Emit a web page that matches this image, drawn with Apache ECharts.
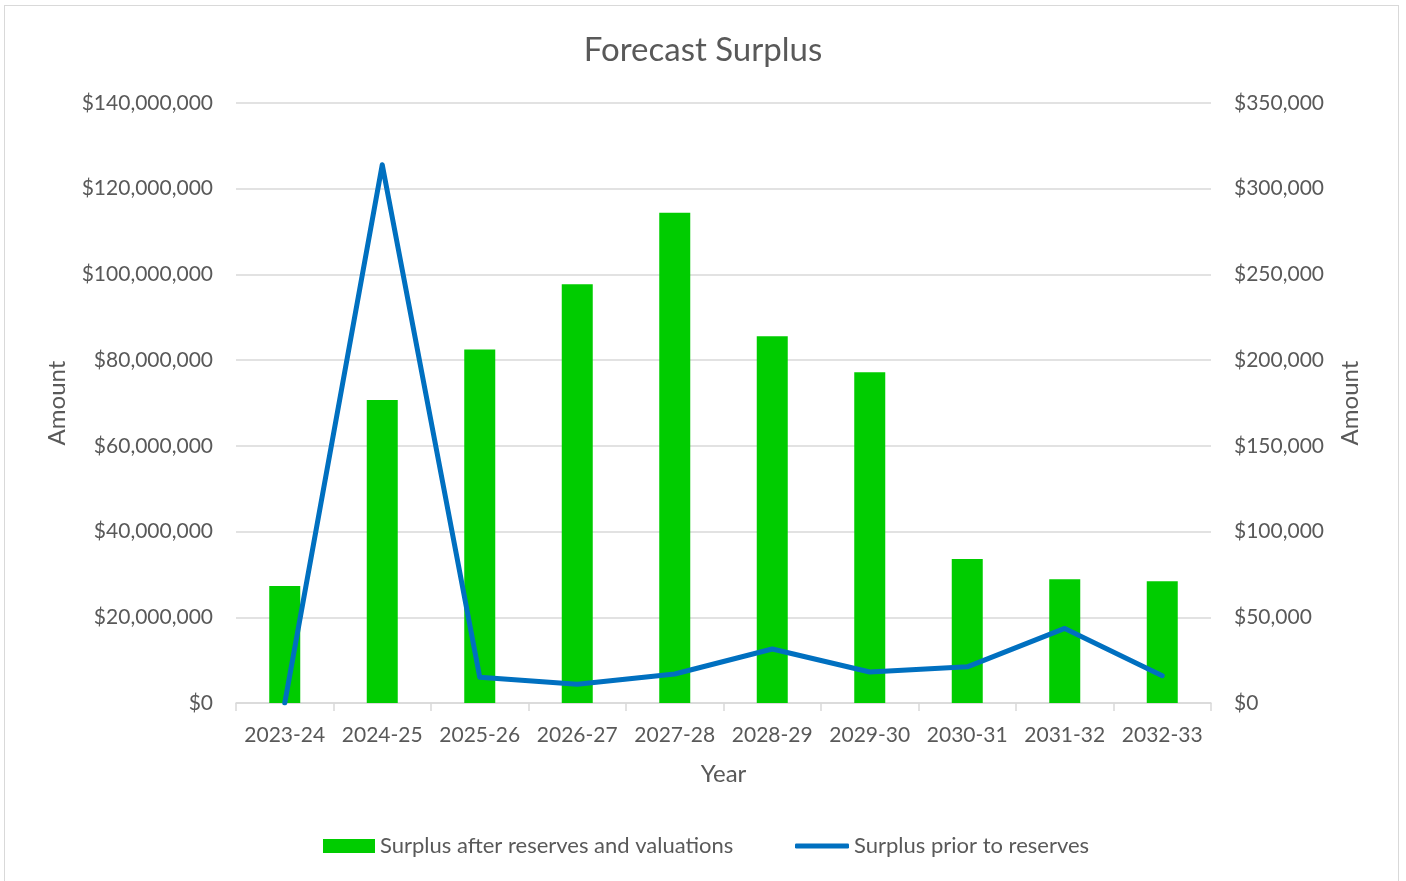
<!DOCTYPE html>
<html>
<head>
<meta charset="utf-8">
<title>Forecast Surplus</title>
<script src="https://cdn.jsdelivr.net/npm/echarts@6/dist/echarts.min.js"></script>
<style>
  html, body { margin: 0; padding: 0; background: #fff; }
  #frame { position: absolute; left: 4px; top: 5px; width: 1395px; height: 900px; border: 1px solid #D9D9D9; box-sizing: border-box; }
  #chart { position: absolute; left: 0; top: 0; width: 1406px; height: 881px; }
</style>
</head>
<body>
<div id="frame"></div>
<div id="chart"></div>
<script>
// Financial years on the category axis
const years = ['2023-24', '2024-25', '2025-26', '2026-27', '2027-28', '2028-29', '2029-30', '2030-31', '2031-32', '2032-33'];
// Surplus after reserves and valuations (left axis, $)
const surplusAfter = [27300000, 70700000, 82500000, 97700000, 114400000, 85600000, 77200000, 33600000, 28900000, 28400000];
// Surplus prior to reserves (right axis, $)
const surplusPrior = [0, 314000, 15000, 10900, 16900, 31500, 18100, 21100, 43500, 15900];
// Axis ranges
const leftMax = 140000000, leftStep = 20000000;
const rightMax = 350000, rightStep = 50000;

const textColor = '#595959';
const gridColor = '#D9D9D9';
const fontFamily = 'Lato, "Open Sans", sans-serif';

function money(v) {
  return '$' + Math.round(v).toLocaleString('en-US');
}

const legendText = { fontSize: 22, color: textColor, fontFamily: fontFamily };

const chart = echarts.init(document.getElementById('chart'), null, { renderer: 'canvas' });
chart.setOption({
  animation: false,
  textStyle: { fontFamily: fontFamily, color: textColor },
  title: {
    text: 'Forecast Surplus',
    left: 'center',
    top: 29,
    textStyle: { fontFamily: fontFamily, fontSize: 33, fontWeight: 'normal', color: textColor }
  },
  grid: { left: 236, right: 195, top: 103, bottom: 178 },
  legend: [
    {
      left: 318,
      top: 830,
      itemWidth: 52,
      itemHeight: 14,
      icon: 'rect',
      textStyle: legendText,
      data: ['Surplus after reserves and valuations']
    },
    {
      left: 790,
      top: 830,
      itemWidth: 54,
      itemHeight: 5,
      icon: 'roundRect',
      textStyle: legendText,
      data: ['Surplus prior to reserves']
    }
  ],
  xAxis: {
    type: 'category',
    data: years,
    name: 'Year',
    nameLocation: 'middle',
    nameGap: 59,
    nameTextStyle: { fontSize: 24, color: textColor },
    axisLine: { lineStyle: { color: gridColor, width: 1.5 } },
    axisTick: { show: true, length: 8, lineStyle: { color: gridColor, width: 1.5 } },
    axisLabel: { fontSize: 21, color: textColor, margin: 22, interval: 0 }
  },
  yAxis: [
    {
      type: 'value',
      min: 0,
      max: leftMax,
      interval: leftStep,
      name: 'Amount',
      nameLocation: 'middle',
      nameGap: 167,
      nameRotate: 90,
      nameTextStyle: { fontSize: 24, color: textColor },
      axisLine: { show: false },
      axisTick: { show: false },
      axisLabel: { fontSize: 21, color: textColor, margin: 23, formatter: money },
      splitLine: { lineStyle: { color: gridColor, width: 1.5 } }
    },
    {
      type: 'value',
      min: 0,
      max: rightMax,
      interval: rightStep,
      name: 'Amount',
      nameLocation: 'middle',
      nameGap: 127,
      nameRotate: 90,
      nameTextStyle: { fontSize: 24, color: textColor },
      axisLine: { show: false },
      axisTick: { show: false },
      axisLabel: { fontSize: 21, color: textColor, margin: 23, formatter: money },
      splitLine: { show: false }
    }
  ],
  series: [
    {
      name: 'Surplus after reserves and valuations',
      type: 'bar',
      yAxisIndex: 0,
      data: surplusAfter,
      barWidth: 31,
      itemStyle: { color: '#00CC00' }
    },
    {
      name: 'Surplus prior to reserves',
      type: 'line',
      yAxisIndex: 1,
      data: surplusPrior,
      symbol: 'none',
      showSymbol: false,
      lineStyle: { color: '#0070C0', width: 5, cap: 'round', join: 'round' },
      itemStyle: { color: '#0070C0' }
    }
  ]
});
</script>
</body>
</html>
